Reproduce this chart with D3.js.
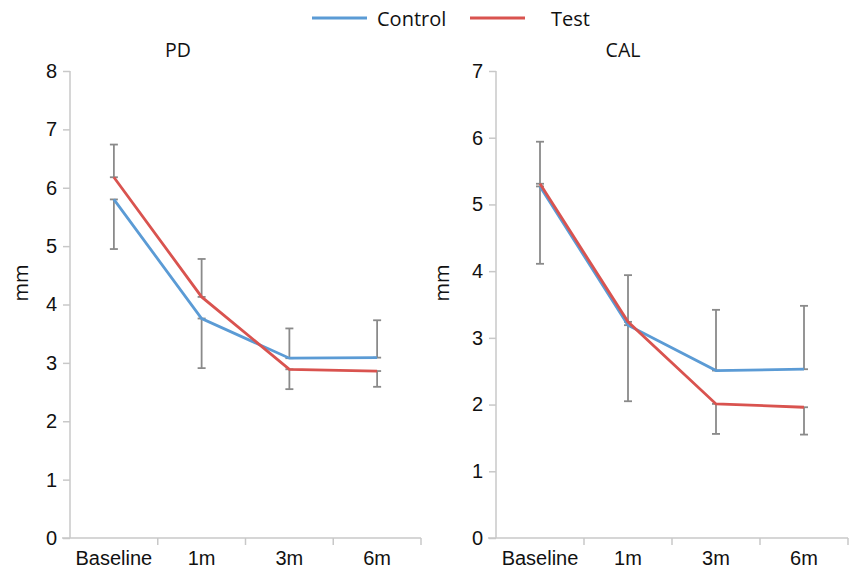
<!DOCTYPE html>
<html>
<head>
<meta charset="utf-8">
<script src="https://cdn.jsdelivr.net/npm/d3@7"></script>
<style>
  body { margin: 0; background: #fff; }
  svg { font-family: "Open Sans", "DejaVu Sans", sans-serif; fill: #111; }
  .axis path, .axis line { stroke: #c8c8c8; stroke-width: 1.5; }
  .axis text { fill: #111; font-size: 20px; }
</style>
</head>
<body>
<div class="main-graph"></div>
<script>
// categories and values
var periods = ["Baseline", "1m", "3m", "6m"];

var pdControl = [5.80, 3.76, 3.08, 3.09];
var pdTest    = [6.18, 4.13, 2.89, 2.86];
var pdControlErr = [0.85, 0.85, 0.51, 0.64];
var pdTestErr    = [0.56, 0.65, 0.34, 0.27];
var pdTicks = [0, 1, 2, 3, 4, 5, 6, 7, 8];

var calControl = [5.27, 3.19, 2.51, 2.53];
var calTest    = [5.31, 3.24, 2.01, 1.96];
var calControlErr = [1.16, 1.14, 0.91, 0.95];
var calTestErr    = [0.63, 0.70, 0.45, 0.41];
var calTicks = [0, 1, 2, 3, 4, 5, 6, 7];

var blue = "#5b9bd5", red = "#d9534f", errGrey = "#8a8a8a";

var svg = d3.select(".main-graph")
            .append("svg")
            .attr("width", 849)
            .attr("height", 575);

//Legend
var legend = svg.append("g");
[["Control", blue, 312], ["Test", red, 470]].forEach(function(l){
    legend.append("line")
        .attr("x1", l[2]).attr("x2", l[2] + 55)
        .attr("y1", 18).attr("y2", 18)
        .attr("stroke", l[1])
        .attr("stroke-width", 3);
});
legend.append("text").attr("x", 377).attr("y", 26).style("font-size", "20px").text("Control");
legend.append("text").attr("x", 551).attr("y", 26).style("font-size", "20px").text("Test");

//====== one panel ======
function panel(opt) {
    var x = d3.scaleBand()
              .domain(periods)
              .range([opt.left, opt.right]);
    var y = d3.scaleLinear()
              .domain([0, d3.max(opt.ticks)])
              .range([538, 71]);

    // X axis
    svg.append("g")
        .attr("class", "axis")
        .attr("transform", "translate(0,538)")
        .call(d3.axisBottom(x).tickSize(0).tickPadding(13))
        .call(g => g.select(".domain").attr("d", "M" + (opt.left - 8) + ",0H" + opt.right))
        .call(g => g.selectAll(".tick line").remove());

    // band boundary ticks on x axis
    svg.append("g")
        .selectAll("line")
        .data(periods)
        .enter().append("line")
        .attr("x1", d => x(d) + x.bandwidth())
        .attr("x2", d => x(d) + x.bandwidth())
        .attr("y1", 538).attr("y2", 545)
        .attr("stroke", "#c8c8c8")
        .attr("stroke-width", 1.5);

    // Y axis
    svg.append("g")
        .attr("class", "axis")
        .attr("transform", "translate(" + opt.left + ",0)")
        .call(d3.axisLeft(y)
                .tickValues(opt.ticks)
                .tickSize(7)
                .tickPadding(6)
                .tickFormat(d3.format("d")))
        .call(g => g.select(".domain").attr("d", "M0,538V71"));

    //Label
    svg.append("text")
        .attr("text-anchor", "middle")
        .style("font-size", "20px")
        .attr("transform", "translate(" + opt.labelX + ",283)rotate(-90)")
        .text("mm");

    svg.append("text")
        .attr("text-anchor", "middle")
        .attr("x", opt.titleX)
        .attr("y", 57)
        .style("font-size", "19.5px")
        .text(opt.title);

    var cx = d => x(d) + x.bandwidth() / 2;

    // error bars: the higher series gets the plus bar, the lower one the minus bar
    var bars = [];
    periods.forEach(function(p, i){
        var cUp = opt.control[i] >= opt.test[i];
        bars.push({p: p, v: opt.control[i], e: cUp ? opt.controlErr[i] : -opt.controlErr[i]});
        bars.push({p: p, v: opt.test[i], e: cUp ? -opt.testErr[i] : opt.testErr[i]});
    });
    var eb = svg.append("g").attr("stroke", errGrey).attr("stroke-width", 1.8);
    bars.forEach(function(b){
        eb.append("line")
            .attr("x1", cx(b.p)).attr("x2", cx(b.p))
            .attr("y1", y(b.v)).attr("y2", y(b.v + b.e));
        [b.v, b.v + b.e].forEach(function(v){
            eb.append("line")
                .attr("x1", cx(b.p) - 4).attr("x2", cx(b.p) + 4)
                .attr("y1", y(v)).attr("y2", y(v));
        });
    });

    //Line
    var line = d3.line()
                 .x((d, i) => cx(periods[i]))
                 .y(d => y(d));

    svg.append("path")
        .attr("d", line(opt.control))
        .attr("fill", "none")
        .attr("stroke", blue)
        .attr("stroke-width", 2.8);
    svg.append("path")
        .attr("d", line(opt.test))
        .attr("fill", "none")
        .attr("stroke", red)
        .attr("stroke-width", 2.8);
}

panel({left: 70, right: 421, ticks: pdTicks, title: "PD", titleX: 178, labelX: 28,
       control: pdControl, test: pdTest, controlErr: pdControlErr, testErr: pdTestErr});
panel({left: 496, right: 848, ticks: calTicks, title: "CAL", titleX: 623, labelX: 449,
       control: calControl, test: calTest, controlErr: calControlErr, testErr: calTestErr});
</script>
</body>
</html>
